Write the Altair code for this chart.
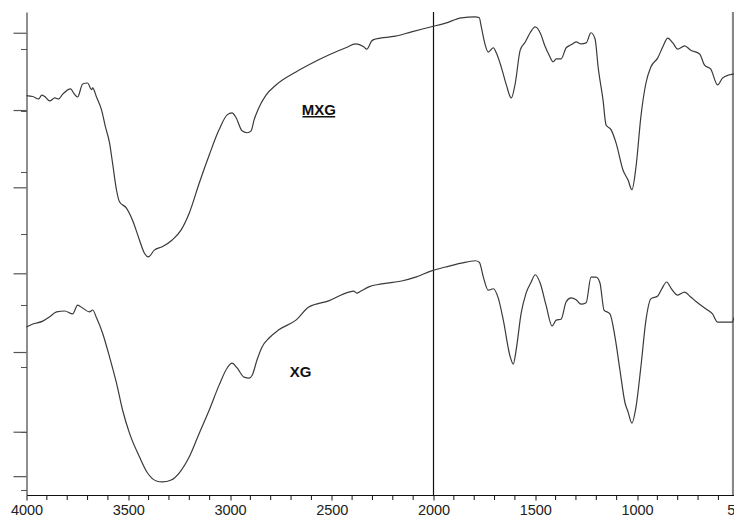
import altair as alt
import pandas as pd

# Wavenumbers (cm-1) and transmittance (arbitrary %)
mxg_wn = [4000,3969,3940,3925,3910,3886,3861,3842,3822,3783,
          3768,3749,3724,3700,3680,3675,3656,3631,3612,3592,
          3577,3558,3543,3509,3479,3445,3421,3401,3372,3333,
          3284,3240,3200,3151,3102,3054,3014,2990,2970,2941,
          2916,2896,2882,2857,2823,2774,2676,2598,2515,2431,
          2382,2343,2328,2304,2285,2187,2108,2015,1941,1863,
          1795,1775,1765,1746,1731,1706,1691,1667,1642,1618,
          1598,1574,1549,1525,1500,1476,1451,1432,1412,1397,
          1373,1348,1324,1299,1275,1250,1226,1206,1191,1167,
          1152,1127,1103,1069,1044,1025,1005,981,956,932,
          898,873,849,824,800,766,736,692,668,638,
          604,580,546,521,505]
mxg_t = [82.7,82.5,82.0,82.8,82.5,81.6,82.2,82.0,83.0,84.1,
         83.2,82.4,85.1,85.3,83.9,84.3,82.4,79.7,76.2,72.9,
         68.7,63.2,60.7,59.4,56.9,52.8,50.1,49.3,50.7,51.4,
         52.8,54.9,58.4,64.6,70.4,75.6,78.7,79.1,78.1,75.4,
         75.0,75.4,77.6,80.3,82.8,84.9,87.6,89.4,91.1,92.6,
         93.4,92.8,92.3,94.0,94.4,95.0,95.9,96.9,97.7,98.8,
         99.0,98.8,96.9,93.2,91.7,92.6,91.5,88.6,84.9,82.2,
         85.3,92.1,93.8,95.7,96.9,95.7,92.8,91.1,89.7,90.3,
         90.3,92.6,93.2,93.8,93.4,93.6,95.7,94.4,88.6,81.8,
         76.6,75.6,72.9,67.3,65.2,63.2,67.9,78.3,85.3,88.6,
         90.5,92.8,94.6,93.6,92.3,93.0,92.1,91.3,89.0,88.2,
         84.9,86.3,87.0,87.2,88.0]

xg_wn = [4000,3969,3920,3886,3852,3812,3773,3749,3724,3690,
         3675,3656,3626,3592,3558,3528,3494,3445,3406,3362,
         3333,3289,3249,3200,3151,3102,3053,3014,2990,2965,
         2931,2906,2891,2867,2843,2808,2760,2676,2613,2515,
         2417,2392,2377,2358,2318,2255,2157,2088,2010,1941,
         1863,1795,1775,1755,1731,1706,1682,1657,1623,1608,
         1594,1569,1545,1520,1500,1476,1447,1417,1397,1373,
         1348,1324,1299,1275,1250,1226,1201,1182,1162,1133,
         1108,1084,1059,1044,1025,1005,981,956,932,898,
         878,854,834,800,766,736,702,653,629,604,
         570,531,521,505]
xg_t = [34.8,35.4,36.0,36.9,37.9,38.1,37.5,39.3,38.7,37.9,
        38.3,36.7,33.5,28.6,23.2,17.6,12.8,7.9,4.6,2.9,
        2.7,3.1,4.6,7.9,12.8,17.6,22.8,26.3,27.3,26.3,
        24.4,24.2,24.8,28.0,30.6,32.5,34.2,36.2,38.9,40.2,
        42.0,42.2,41.8,42.2,43.1,43.7,44.3,45.1,46.4,47.2,
        48.0,48.5,48.2,45.1,42.4,42.7,40.8,36.2,28.6,27.1,
        30.0,37.7,41.8,44.1,45.6,43.9,39.3,35.0,36.2,36.4,
        40.0,40.8,40.4,39.5,39.8,45.1,45.1,43.9,38.3,37.5,
        32.7,25.9,19.1,17.2,14.9,18.2,26.5,36.2,40.6,41.2,
        42.7,44.1,42.9,41.4,42.0,41.0,39.8,38.3,37.5,35.8,
        35.8,35.8,36.9,36.2]

x_major = [4000, 3500, 3000, 2500, 2000, 1500, 1000, 500]
x_minor = [w for w in range(600, 4000, 100) if w % 500 != 0]
y_major = [95.6, 79.6, 63.6, 45.8, 29.5, 13.0, 3.8]
y_minor = [98.6, 92.4, 89.2, 86.0, 82.8, 76.4, 73.2, 70.0, 66.8, 60.5, 57.1,
           54.0, 50.7, 42.7, 39.3, 36.0, 32.8, 26.4, 23.1, 19.8, 16.5, 9.9, 6.7, 1.0]

label_names = ["MXG", "XG"]
label_wn = [2563, 2653]
label_t = [79.7, 25.5]
underline_wn = [2644, 2483]
underline_t = [78.3]
marker_wn = [2000]

rows = [{"wn": w, "t": t, "series": "MXG"} for w, t in zip(mxg_wn, mxg_t)]
rows += [{"wn": w, "t": t, "series": "XG"} for w, t in zip(xg_wn, xg_t)]
df = pd.DataFrame(rows)

PLOT_W = 712.25
xscale = alt.Scale(domain=[500, 4000], reverse=True, nice=False, zero=False)
yscale = alt.Scale(domain=[0, 100], nice=False, zero=False)
FONT = "Liberation Sans"

lines = alt.Chart(df).mark_line(color="#3a3a3a", strokeWidth=1.2, interpolate="monotone").encode(
    x=alt.X("wn:Q", scale=xscale, axis=alt.Axis(
        values=x_major, format="d",
        tickSize=5, tickColor="#111", domainColor="#111", domainWidth=1.2,
        labelFontSize=14.5, labelFont=FONT, labelColor="#222", labelPadding=3,
        labelFlush=False, labelOverlap=False, labelBound=False, grid=False, title=None)),
    y=alt.Y("t:Q", scale=yscale, axis=alt.Axis(
        values=y_minor + y_major, labels=False, tickSize=6, tickColor="#555",
        domainColor="#444", domainWidth=1.2, grid=False, title=None)),
    detail="series:N",
)

xminor = alt.Chart(pd.DataFrame({"wn": x_minor})).mark_rule(color="#111", strokeWidth=1).encode(
    x=alt.X("wn:Q", scale=xscale), y=alt.value(483), y2=alt.value(488)
)

major = alt.Chart(pd.DataFrame({"t": y_major})).mark_rule(color="#555", strokeWidth=1.2).encode(
    y=alt.Y("t:Q", scale=yscale), x=alt.value(-13), x2=alt.value(0)
)

vline = alt.Chart(pd.DataFrame({"wn": marker_wn})).mark_rule(color="#111", strokeWidth=1.2).encode(
    x=alt.X("wn:Q", scale=xscale)
)

frame = alt.Chart(pd.DataFrame({"a": [0]})).mark_rule(color="#888", strokeWidth=2.2).encode(
    x=alt.value(706.5)
)

labels = alt.Chart(pd.DataFrame({"wn": label_wn, "t": label_t, "name": label_names})).mark_text(
    font=FONT, fontWeight="bold", fontSize=15, color="#111", baseline="middle", align="center"
).encode(x=alt.X("wn:Q", scale=xscale), y=alt.Y("t:Q", scale=yscale), text="name:N")

underline = alt.Chart(pd.DataFrame({"x1": [underline_wn[0]], "x2": [underline_wn[1]], "t": underline_t})).mark_rule(
    color="#111", strokeWidth=1.5
).encode(x=alt.X("x1:Q", scale=xscale), x2="x2:Q", y=alt.Y("t:Q", scale=yscale))

chart = alt.layer(frame, vline, lines, xminor, major, labels, underline).properties(
    width=PLOT_W, height=483,
    autosize=alt.AutoSizeParams(type="none"),
    padding={"left": 18.5, "top": 4, "right": 726 - 18.5 - PLOT_W, "bottom": 24},
).configure_view(strokeWidth=0)

chart.save("out.html", embed_options={"renderer": "svg", "actions": False})
